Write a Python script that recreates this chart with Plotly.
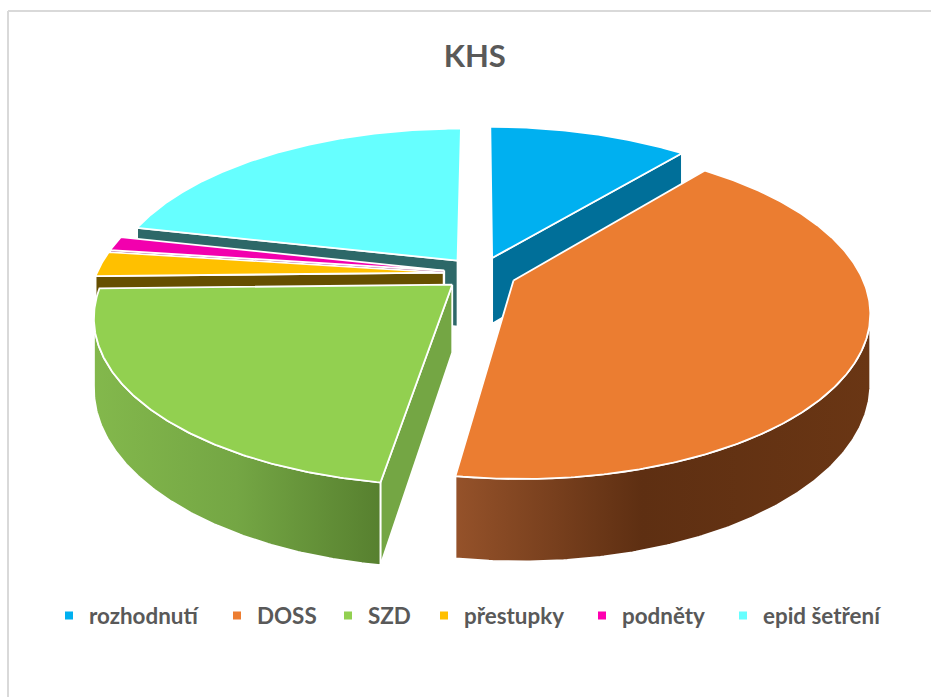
import numpy as np
import plotly.graph_objects as go

categories = ["rozhodnutí", "DOSS", "SZD", "přestupky", "podněty", "epid šetření"]
values = [11.0, 41.45, 22.2, 2.45, 1.4, 21.5]
top_colors = ["#00B0F0", "#EB7D31", "#92D050", "#FFC000", "#F200AE", "#66FFFF"]
legend_colors = ["#00B0F0", "#ED7D31", "#92D050", "#FFC000", "#FF00B0", "#66FFFF"]
side_colors = ["#006F99", "#8F4D20", "#74A644", "#664F00", "#7A0058", "#2D6868"]
wall_scales = {
    1: [[0, "#95522A"], [0.45, "#5E2F12"], [1, "#6A3614"]],
    2: [[0, "#83B84C"], [0.5, "#74A644"], [1, "#57802F"]],
}
draw_order = [0, 5, 4, 3, 2, 1]
legend_text_px = [89, 257, 368, 464, 622, 763]

CX, CY = 480.0, 273.5
RX, RY = 347.0, 160.0
PERSP, DEPTH, EXPLODE = 0.18, 67.0, 0.105
W, H = 931, 697


def project(u, v, z=0.0):
    w = 1 + PERSP * v
    return CX + RX * u / w, CY - RY * v / w + DEPTH * z / w


total = sum(values)
edges = np.cumsum([0] + values) / total * 2 * np.pi
fig = go.Figure()


def face(xs, ys, color, gradient=None):
    kw = dict(fillcolor=color)
    if gradient is not None:
        kw = dict(fillgradient=dict(type="horizontal", colorscale=gradient))
    fig.add_trace(go.Scatter(x=list(xs), y=list(ys), mode="lines", fill="toself",
                             line=dict(color="white", width=1.8), hoverinfo="skip",
                             showlegend=False, **kw))


for i in draw_order:
    a0, a1 = edges[i], edges[i + 1]
    mid = (a0 + a1) / 2
    ou, ov = EXPLODE * np.sin(mid), EXPLODE * np.cos(mid)
    t = np.linspace(a0, a1, max(8, int(np.degrees(a1 - a0)) * 2))
    arc_u, arc_v = ou + np.sin(t), ov + np.cos(t)
    tx, ty = project(arc_u, arc_v)
    ax0, ay0 = project(ou, ov)
    ax1, ay1 = project(ou, ov, 1.0)
    # flat cut faces: only those turned towards the viewer
    visible = [(0, np.sin(a0) < -1e-6), (-1, np.sin(a1) > 1e-6)]
    for k, show in visible:
        if show:
            bx, by = project(arc_u[k], arc_v[k], 1.0)
            face([ax0, tx[k], bx, ax1, ax0], [ay0, ty[k], by, ay1, ay0], side_colors[i])
    # outer wall: only the part of the rim that faces the viewer
    front = np.cos(t) <= -PERSP
    if front.any():
        fx, fy = tx[front], ty[front]
        bx, by = project(arc_u[front], arc_v[front], 1.0)
        face(np.r_[fx, bx[::-1], fx[0]], np.r_[fy, by[::-1], fy[0]], side_colors[i], wall_scales.get(i))
    # top
    face(np.r_[ax0, tx, ax0], np.r_[ay0, ty, ay0], top_colors[i])

legends = {}
for n, (name, col, px) in enumerate(zip(categories, legend_colors, legend_text_px)):
    key = "legend" if n == 0 else f"legend{n + 1}"
    fig.add_trace(go.Scatter(x=[None], y=[None], mode="markers", name=name, legend=key,
                             marker=dict(symbol="square", size=8, color=col)))
    legends[key] = dict(x=(px - 40) / W, xanchor="left", y=1 - 616 / H, yanchor="middle",
                        font=dict(family="Lato", size=22.4, color="#595959", weight="bold"),
                        itemwidth=30, bgcolor="rgba(0,0,0,0)")

fig.update_layout(
    width=W, height=H, margin=dict(l=0, r=0, t=0, b=0),
    paper_bgcolor="white", plot_bgcolor="white",
    xaxis=dict(range=[0, W], visible=False, fixedrange=True),
    yaxis=dict(range=[H, 0], visible=False, fixedrange=True),
    title=dict(text="<b>KHS</b>", x=0.51, xanchor="center", y=0.92, yanchor="middle",
               font=dict(family="Lato", size=31, color="#595959")),
    shapes=[
        dict(type="line", xref="x", yref="y", x0=8, y0=11, x1=931, y1=11,
             line=dict(color="#D9D9D9", width=2), layer="below"),
        dict(type="line", xref="x", yref="y", x0=8, y0=11, x1=8, y1=697,
             line=dict(color="#D9D9D9", width=2), layer="below"),
    ],
    **legends,
)
fig.write_html("out.html", config={"displayModeBar": False},
               post_script="document.body.style.margin='0';document.body.style.overflow='hidden';")
